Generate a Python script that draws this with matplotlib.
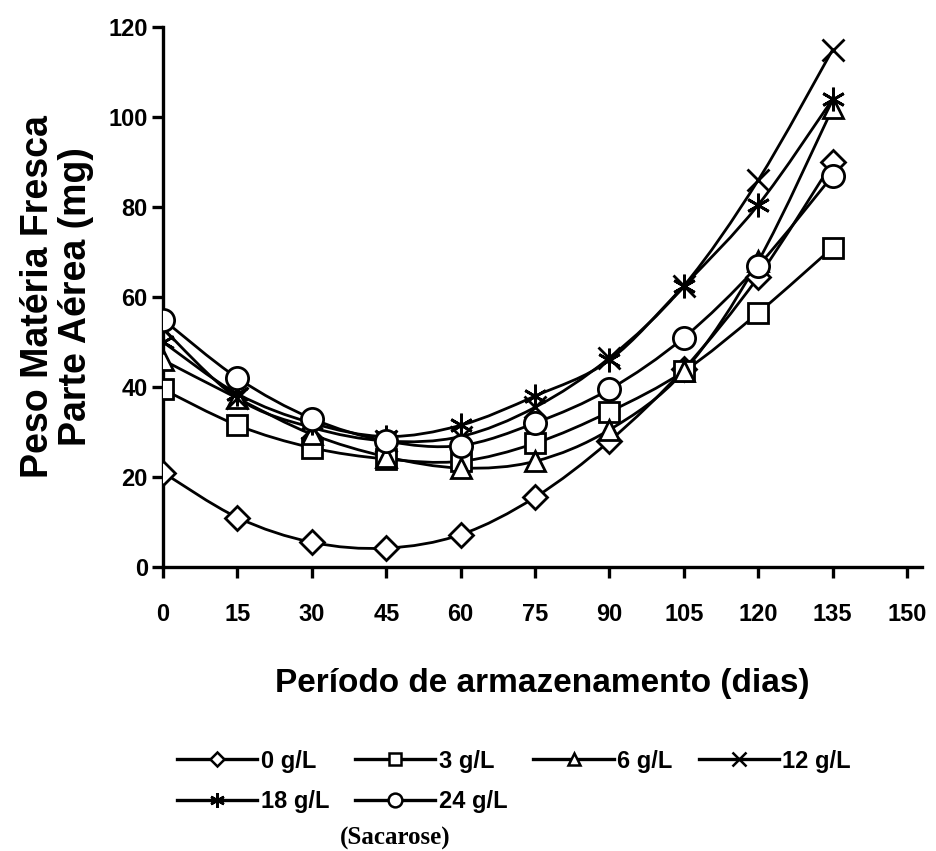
import matplotlib
matplotlib.use('Agg')
import matplotlib.pyplot as plt
import numpy as np
from matplotlib.path import Path
from matplotlib.patches import PathPatch
from matplotlib.lines import Line2D

plt.rcParams['font.family'] = ['Liberation Sans', 'DejaVu Sans']
plt.rcParams['font.weight'] = 'bold'

# dados
dias = [0, 15, 30, 45, 60, 75, 90, 105, 120, 135]
s0 = [21, 11, 5.5, 4.2, 7.2, 15.5, 28, 44, 64.5, 90]
s3 = [39.5, 31.5, 26.5, 24, 23.5, 27.5, 34.5, 43.5, 56.5, 71]
s6 = [46, 37.5, 29.5, 24.5, 22, 23.5, 30.5, 43.5, 68, 102]
s12 = [53, 37.5, 31, 28, 29, 35.5, 46.5, 62.5, 86, 115]
s18 = [50, 38.5, 32, 29, 31.5, 38, 46, 62.5, 80.5, 104]
s24 = [55, 42, 33, 28, 27, 32, 39.5, 51, 67, 87]

series = [s0, s3, s6, s12, s18, s24]
rotulos = ['0 g/L', '3 g/L', '6 g/L', '12 g/L', '18 g/L', '24 g/L']
marcadores = ['D', 's', '^', 'x', (6, 2, 0), 'o']
tamanhos = [12, 15, 15, 16, 17, 16]


def curva_suave(x, y):
    # Catmull-Rom convertido em curvas de Bezier
    p = np.column_stack([x, y]).astype(float)
    n = len(p)
    verts = [p[0]]
    codes = [Path.MOVETO]
    for i in range(n - 1):
        p0 = p[i - 1] if i > 0 else p[i]
        p3 = p[i + 2] if i + 2 < n else p[i + 1]
        c1 = p[i] + (p[i + 1] - p0) / 6.0
        c2 = p[i + 1] - (p3 - p[i]) / 6.0
        verts += [c1, c2, p[i + 1]]
        codes += [Path.CURVE4] * 3
    return Path(verts, codes)


fig = plt.figure(figsize=(9.37, 8.51), dpi=100)
ax = fig.add_axes([0.174, 0.3337, 0.81, 0.6345])

handles = []
for y, lab, m, ms in zip(series, rotulos, marcadores, tamanhos):
    ax.add_patch(PathPatch(curva_suave(dias, y), facecolor='none',
                           edgecolor='black', lw=2.0, zorder=2))
    ax.plot(dias, y, ls='none', marker=m, ms=ms, mfc='white', mec='black',
            mew=2.0, zorder=3)
    handles.append(Line2D([], [], color='black', lw=2.4, marker=m,
                          ms=ms * 0.62, mfc='white', mec='black', mew=1.8))

ax.set_xlim(0, 153)
ax.set_ylim(0, 120)
ax.set_xticks(range(0, 151, 15))
ax.set_yticks(range(0, 121, 20))
ax.spines['top'].set_visible(False)
ax.spines['right'].set_visible(False)
for s in ['left', 'bottom']:
    ax.spines[s].set_linewidth(2.4)
ax.tick_params(width=2.4, length=8, labelsize=17)
ax.tick_params(axis='x', pad=18)
ax.tick_params(axis='y', pad=3)
for t in ax.get_xticklabels() + ax.get_yticklabels():
    t.set_fontweight('bold')

ax.set_ylabel('Peso Matéria Fresca\nParte Aérea (mg)', fontsize=27,
              fontweight='bold', labelpad=10, linespacing=1.1)
ax.set_xlabel('Período de armazenamento (dias)', fontsize=24,
              fontweight='bold', labelpad=30)

# ordem para preencher por linhas
ordem = [0, 4, 1, 5, 2, 3]
leg = fig.legend([handles[i] for i in ordem], [rotulos[i] for i in ordem],
                 ncol=4, frameon=False, fontsize=17, handlelength=3.4,
                 handletextpad=0.15, columnspacing=1.1, labelspacing=0.75,
                 borderpad=0, loc='upper left', bbox_to_anchor=(0.176, 0.133))
fig.text(0.422, 0.008, '(Sacarose)', fontsize=18, fontweight='bold',
         family=['Liberation Serif', 'DejaVu Serif'], ha='center')

fig.savefig('out.png', dpi=100, facecolor='white')
